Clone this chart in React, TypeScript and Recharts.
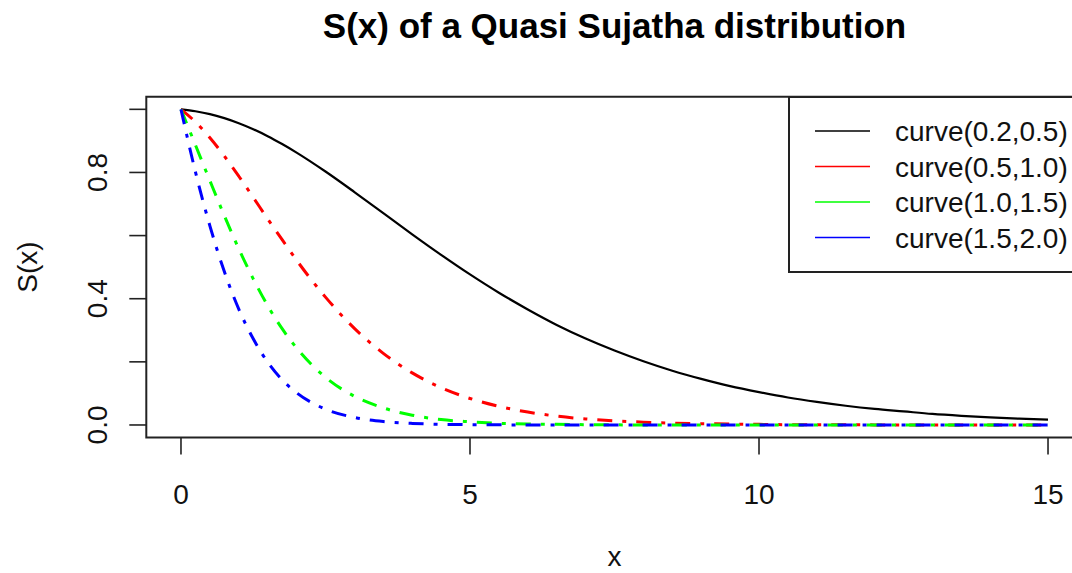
import { LineChart, Line, XAxis, YAxis, ReferenceArea, Legend } from "recharts"

// x grid and S(x) values
const xs = [0, 0.25, 0.5, 0.75, 1, 1.25, 1.5, 1.75, 2, 2.5, 3, 3.5, 4, 4.5, 5, 5.5, 6, 6.5, 7, 7.5, 8, 8.5, 9, 9.5, 10, 10.5, 11, 11.5, 12, 12.5, 13, 13.5, 14, 14.5, 15]
const sBlack = [1, 0.994, 0.985, 0.972, 0.956, 0.937, 0.915, 0.89, 0.863, 0.803, 0.738, 0.671, 0.604, 0.539, 0.477, 0.419, 0.366, 0.317, 0.274, 0.236, 0.202, 0.172, 0.146, 0.123, 0.104, 0.087, 0.073, 0.061, 0.051, 0.043, 0.035, 0.029, 0.024, 0.02, 0.017]
const sRed = [1, 0.96, 0.91, 0.852, 0.788, 0.721, 0.653, 0.587, 0.522, 0.405, 0.306, 0.227, 0.165, 0.118, 0.084, 0.059, 0.041, 0.028, 0.019, 0.013, 0.009, 0.006, 0.004, 0.003, 0.002, 0.001, 0.001, 0.0005, 0.0003, 0.0002, 0.0001, 0.0001, 0.0001, 0, 0]
const sGreen = [1, 0.887, 0.774, 0.663, 0.558, 0.463, 0.378, 0.305, 0.244, 0.151, 0.091, 0.054, 0.031, 0.017, 0.01, 0.005, 0.003, 0.002, 0.001, 0.0004, 0.0002, 0.0001, 0.0001, 0, 0, 0, 0, 0, 0, 0, 0, 0, 0, 0, 0]
const sBlue = [1, 0.802, 0.631, 0.486, 0.367, 0.273, 0.199, 0.143, 0.102, 0.05, 0.024, 0.011, 0.005, 0.002, 0.001, 0.0004, 0.0002, 0.0001, 0, 0, 0, 0, 0, 0, 0, 0, 0, 0, 0, 0, 0, 0, 0, 0, 0]

const seriesNames = ["curve(0.2,0.5)", "curve(0.5,1.0)", "curve(1.0,1.5)", "curve(1.5,2.0)"]
const seriesColors = ["#000000", "#ff0000", "#00ff00", "#0000ff"]

const xTicks = [0, 5, 10, 15]
const yTicks = [0, 0.2, 0.4, 0.6, 0.8, 1.0]
const yTickLabels = ["0.0", "", "0.4", "", "0.8", ""]

const data = xs.map((x, i) => ({ x, a: sBlack[i], b: sRed[i], c: sGreen[i], d: sBlue[i] }))

const FONT = "'Liberation Sans', Arial, sans-serif"

function XTick(props: any) {
  const { x, y, payload } = props
  return (
    <text x={x} y={y + 49} textAnchor="middle" fontSize={28} fontFamily={FONT} fill="#111">
      {String(payload.value)}
    </text>
  )
}

function YTick(props: any) {
  const { x, y, payload } = props
  const idx = yTicks.findIndex((t) => Math.abs(t - payload.value) < 1e-6)
  const label = idx >= 0 ? yTickLabels[idx] : ""
  if (!label) return <g />
  const tx = x - 22
  return (
    <text x={tx} y={y} transform={`rotate(-90 ${tx} ${y})`} textAnchor="middle" fontSize={28} fontFamily={FONT} fill="#111">
      {label}
    </text>
  )
}

function LegendBox(props: any) {
  const items = (props.payload || []).map((p: any, i: number) => ({
    name: p.value ?? seriesNames[i],
    color: p.color ?? seriesColors[i],
  }))
  return (
    <svg width={300} height={178} style={{ display: "block" }}>
      <rect x={1} y={1} width={320} height={175} fill="white" stroke="#222" strokeWidth={2} />
      {items.map((it: any, i: number) => {
        const ly = 35 + i * 35.5
        return (
          <g key={i}>
            <line x1={27} x2={82} y1={ly} y2={ly} stroke={it.color} strokeWidth={1.6} />
            <text x={107} y={ly + 10} fontSize={28} fontFamily={FONT} fill="#111">{it.name}</text>
          </g>
        )
      })}
    </svg>
  )
}

export default function App() {
  const dash = "15 10 4 10"
  return (
    <div style={{ position: "fixed", left: 0, top: 0, width: 1072, height: 573, overflow: "hidden", background: "#fff" }}>
      <LineChart width={1100} height={573} data={data} margin={{ top: 96.7, right: 17.3, left: 0, bottom: 0 }}>
        <XAxis
          dataKey="x"
          type="number"
          domain={[-0.6, 15.6]}
          ticks={xTicks}
          interval={0}
          allowDataOverflow
          height={135.4}
          tickSize={17}
          tickMargin={0}
          axisLine={false}
          tickLine={{ stroke: "#222", strokeWidth: 1.6 }}
          tick={(p: any) => <XTick {...p} />}
        />
        <YAxis
          type="number"
          domain={[-0.04, 1.04]}
          ticks={yTicks}
          interval={0}
          allowDataOverflow
          width={146.3}
          tickSize={17}
          tickMargin={0}
          axisLine={false}
          tickLine={{ stroke: "#222", strokeWidth: 1.6 }}
          tick={(p: any) => <YTick {...p} />}
        />
        <ReferenceArea x1={-0.6} x2={15.6} y1={-0.04} y2={1.04} fill="none" fillOpacity={0} stroke="#222" strokeWidth={2} ifOverflow="visible" />
        <Line type="monotone" dataKey="a" name={seriesNames[0]} stroke={seriesColors[0]} strokeWidth={2.2} dot={false} isAnimationActive={false} />
        <Line type="monotone" dataKey="b" name={seriesNames[1]} stroke={seriesColors[1]} strokeWidth={3} strokeDasharray={dash} dot={false} isAnimationActive={false} />
        <Line type="monotone" dataKey="c" name={seriesNames[2]} stroke={seriesColors[2]} strokeWidth={3} strokeDasharray={dash} dot={false} isAnimationActive={false} />
        <Line type="monotone" dataKey="d" name={seriesNames[3]} stroke={seriesColors[3]} strokeWidth={3} strokeDasharray={dash} dot={false} isAnimationActive={false} />
        <Legend
          layout="vertical"
          align="center"
          verticalAlign="middle"
          content={(p: any) => <LegendBox {...p} />}
          wrapperStyle={{ position: "absolute", left: 788, top: 96, width: 300, height: 178 }}
        />
      </LineChart>
      <svg width={1072} height={573} style={{ position: "absolute", left: 0, top: 0, pointerEvents: "none" }}>
        <text x={614.5} y={38} textAnchor="middle" fontSize={35} fontWeight="bold" fontFamily={FONT} fill="#000">
          S(x) of a Quasi Sujatha distribution
        </text>
        <text x={614.5} y={566} textAnchor="middle" fontSize={28} fontFamily={FONT} fill="#111">x</text>
        <text x={37} y={267} transform="rotate(-90 37 267)" textAnchor="middle" fontSize={28} fontFamily={FONT} fill="#111">S(x)</text>
      </svg>
    </div>
  )
}
